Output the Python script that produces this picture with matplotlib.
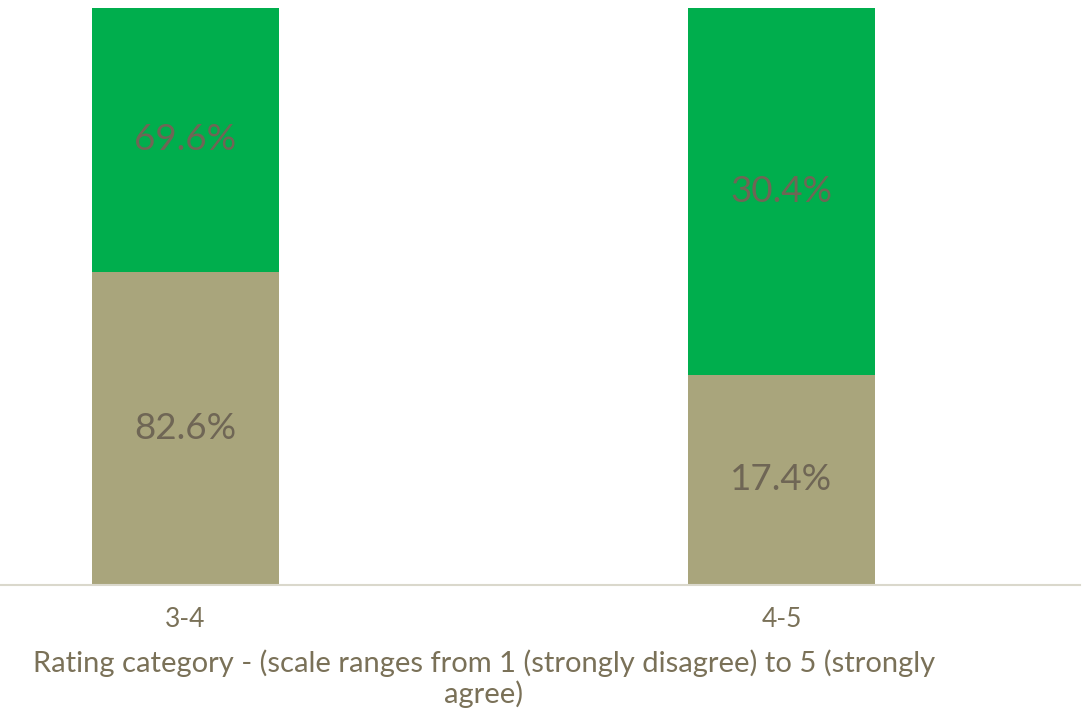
import matplotlib.pyplot as plt

plt.rcParams['font.family'] = ['Lato', 'DejaVu Sans']

categories = ["3-4", "4-5"]
lower_vals = [82.6, 17.4]   # tan segment
upper_vals = [69.6, 30.4]   # green segment

# 100% stacked: shares of each column
totals = [a + b for a, b in zip(lower_vals, upper_vals)]
lower_share = [a / t for a, t in zip(lower_vals, totals)]
upper_share = [b / t for b, t in zip(upper_vals, totals)]

c_green = "#00AE4D"
c_tan = "#A9A57C"
c_text = "#6F6655"

fig = plt.figure(figsize=(10.89, 7.10), dpi=100)
ax = fig.add_axes([0.0, 125 / 710, 1080 / 1089, 577 / 710])

x = [0, 1]
w = 0.314
ax.bar(x, lower_share, width=w, color=c_tan)
ax.bar(x, upper_share, bottom=lower_share, width=w, color=c_green)

for i in range(len(x)):
    ax.text(x[i], lower_share[i] / 2, f"{lower_vals[i]:.1f}%", ha="center", va="center",
            fontsize=26.5, color=c_text)
    ax.text(x[i], lower_share[i] + upper_share[i] / 2, f"{upper_vals[i]:.1f}%",
            ha="center", va="center", fontsize=26.5, color=c_text)

ax.set_xlim(-0.311, 1.501)
ax.set_ylim(0, 1)
ax.set_xticks(x)
ax.set_xticklabels(categories, fontsize=19, color="#7A7158")
ax.tick_params(axis="x", length=0, pad=16)
ax.set_yticks([])
for s in ["top", "left", "right"]:
    ax.spines[s].set_visible(False)
ax.spines["bottom"].set_color("#DAD8CC")
ax.spines["bottom"].set_linewidth(1.5)

fig.text(484 / 1089, 1 - 679 / 710,
         "Rating category - (scale ranges from 1 (strongly disagree) to 5 (strongly\nagree)",
         ha="center", va="center", fontsize=21, color="#7A7158", linespacing=1.15)

fig.savefig("out.png", dpi=100)
